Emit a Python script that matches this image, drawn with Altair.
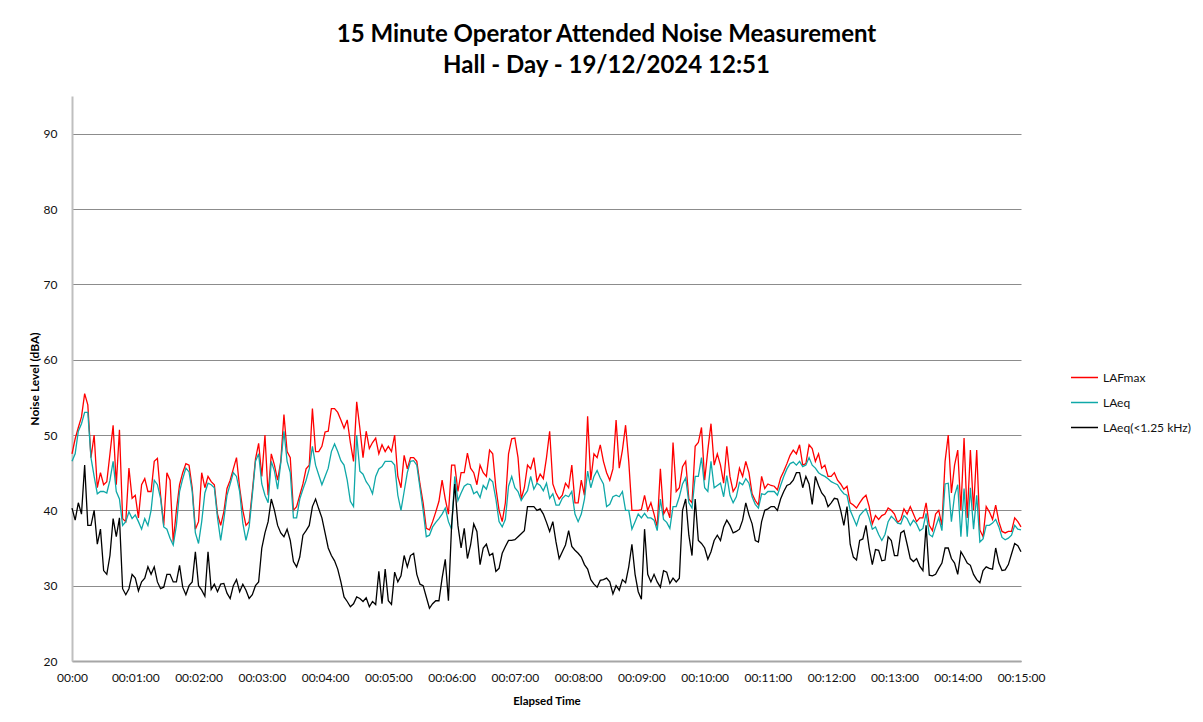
import altair as alt
import pandas as pd

SERIES = ["LAFmax", "LAeq", "LAeq(<1.25 kHz)"]
COLORS = ["#FF0000", "#0FA8A8", "#000000"]
STEP_S = 3  # seconds between samples

LAFMAX = [
    47.5, 49.5, 51, 52.4, 55.5, 54, 47, 50, 43, 45, 43.4, 43.8, 47.5, 51.3, 43.4, 50.7, 38.9, 38.5, 45.6, 41.6, 42, 39, 43.4, 44.2, 42.5, 42.5, 46.5, 46.9, 42, 38, 45, 44, 35.8, 40, 43.4, 45, 46.2, 46,
    43, 37.5, 38.5, 45, 43, 44.5, 43.8, 43.4, 39.5, 38, 39.8, 42.9, 44, 45.5, 47, 43, 40, 38, 38.5, 42.5, 46.8, 48.9, 44.5, 50, 42, 47.5, 46, 44, 46.5, 52.7, 47.8, 47, 40, 40.5, 42, 43.5, 45.5, 46,
    53.5, 47.8, 47.8, 48.5, 50.4, 50.5, 53.5, 53.5, 53, 52, 50.9, 52, 49, 46.5, 54.4, 50.9, 47, 50.5, 48.2, 49, 49.6, 47.5, 48.7, 47.8, 48.5, 47.8, 50, 44.5, 43, 47.3, 45.5, 47, 47, 46.5, 43.5, 41, 37.6, 37.4,
    38.5, 39.8, 41.2, 44, 41.5, 39.5, 46, 46, 42.5, 45, 45, 47.6, 45.6, 45, 43.4, 46, 45, 44.5, 48, 47.5, 43, 40, 38.5, 41, 47.5, 49.5, 49.6, 47, 41.5, 43, 46, 45.5, 47, 43.8, 44.8, 44.2, 47, 50.5,
    43.5, 42.3, 41.5, 42, 43.6, 43, 46, 41, 41, 44, 42, 52.5, 44, 47.5, 47, 48.7, 46.5, 45, 44, 45.5, 52, 45.6, 48, 51.3, 46.5, 40, 40, 40, 40.1, 42, 40, 41, 39.5, 37.8, 45.5, 39.5, 40.3, 39,
    49, 42.5, 43, 45.8, 46.5, 41.5, 41, 48.5, 49, 51, 44, 48, 51.5, 46, 47.5, 46, 43.6, 48.5, 44.5, 42.5, 43.2, 45.6, 44.5, 46.5, 45, 42.2, 41.3, 40.7, 44.5, 42.9, 43.5, 43.3, 43.2, 42.7, 44.3, 45.2, 46.2, 47.3,
    48, 47.5, 48.7, 46, 46.2, 48.7, 48.2, 46.5, 47.5, 45.6, 46, 44.5, 44.5, 45, 44, 43.5, 42.8, 43.2, 41, 40.7, 40.3, 41, 41.6, 42, 40.5, 38.2, 39.3, 38.8, 39.3, 39.5, 40.3, 40, 39.5, 38.4, 38.8, 40.2, 39.5, 40.5,
    39.5, 38.5, 39, 39, 41, 38, 37.3, 39.5, 40, 38, 46.5, 50, 42.3, 46, 48, 40, 49.6, 39, 48, 40, 48, 37.4, 36.5, 40.5, 39.8, 38.8, 40.7, 38.5, 37.2, 37, 37.2, 37.2, 39, 38.5, 37.8,
]

LAEQ = [
    46.5, 47.5, 50.5, 51.5, 53, 53, 47, 44.5, 42.2, 42.5, 42.5, 42.3, 44, 46.5, 42.5, 41.5, 38, 38.5, 39.8, 38.9, 39.4, 38.5, 37.5, 38.9, 38, 40, 44, 43.4, 41.6, 37.8, 37.5, 36.3, 35.4, 38, 42.5, 44.2, 45.6, 45.1,
    42.5, 37, 35.6, 38.5, 42.3, 43.6, 43.4, 43, 39, 36, 38.8, 42, 43.5, 45, 44.5, 42.5, 38.3, 36, 37.8, 42, 46.5, 47.5, 43.5, 42, 41, 46.5, 45.2, 42.8, 46.3, 50.5, 46.5, 45, 39, 39, 41.5, 42.8, 44, 45.5,
    48.5, 46, 44.7, 43.4, 44.5, 45.6, 47.8, 48.8, 47.8, 46.6, 46, 44, 41.2, 40.5, 50, 45.2, 44.8, 43.8, 43.2, 42.2, 44.5, 45.5, 45.8, 46.5, 46.5, 46.5, 46, 42, 40, 42.5, 45, 46.5, 46.6, 46, 43, 40, 36.5, 36.7,
    37.8, 38.4, 38.9, 39.5, 40.3, 38.5, 37.5, 44.5, 41.3, 42.3, 43.2, 43.5, 43.4, 42.2, 42.5, 41.7, 43.3, 42.8, 44.2, 43.8, 41.5, 38.5, 37.8, 38.8, 43.2, 44.5, 43, 42.5, 41.3, 42, 42.6, 44.5, 42.8, 43.6, 43.3, 42.6, 43.6, 41.6,
    42.2, 40.7, 40.7, 41.6, 42, 41.8, 42.5, 39.5, 38.5, 39.5, 41.5, 45.2, 43, 44.5, 45.3, 44.3, 43.5, 40.5, 40.8, 41.8, 42, 41.8, 42.5, 40, 40, 37.5, 38.5, 39.5, 39, 39.6, 39, 39, 38.7, 37.3, 41.5, 38.8, 38.4, 37.6,
    40.5, 40.5, 41.8, 43.5, 44.3, 41, 40.3, 44.5, 44.5, 47, 43, 42.5, 46.5, 43, 43.3, 43.6, 41.8, 44.6, 42, 41, 41.8, 43.7, 43.4, 44.2, 43.6, 41.8, 40.8, 40.3, 42.2, 42.1, 42.5, 42.5, 42.5, 42, 43.3, 44.5, 45.5, 46.2,
    46.4, 46, 46.5, 45.8, 46, 47, 46, 45.6, 45, 44.7, 44.5, 44.2, 43.8, 43.6, 43.4, 42.7, 42.2, 42, 40, 39, 38, 39.3, 39.8, 40.2, 39, 37.5, 37.8, 36.8, 36, 36.8, 38.5, 39.2, 38.8, 38.3, 38.2, 39.3, 38.9, 38,
    38.7, 38.2, 37.3, 37.6, 39.6, 36.8, 36.5, 37.8, 39, 37.3, 43.5, 43.6, 38.5, 42, 43.4, 36.5, 42.9, 36.5, 43, 37.5, 42, 35.8, 36.2, 38, 38, 38.3, 38.8, 37.8, 36.4, 36.1, 36.3, 36.7, 38, 37.5, 37.4,
]

LAEQ_LF = [
    40.3, 38.7, 41, 39.5, 46, 38, 38, 40, 35.5, 37.5, 32, 31.5, 34, 38.9, 36.5, 39, 29.6, 28.8, 29.6, 31.5, 31, 29.3, 30.5, 31, 32.5, 31.5, 32.5, 30.5, 29.6, 29.8, 31.5, 31.5, 30.5, 30.5, 32.7, 29.8, 28.8, 30,
    30.5, 34.5, 30, 29.4, 28.6, 34.5, 29.5, 30.2, 29.2, 30.2, 30.3, 29, 28.3, 30, 30.8, 29.2, 30.2, 29.4, 28.3, 28.8, 30, 30.5, 35, 37, 38.5, 41.5, 40, 38, 37, 36.5, 37.5, 36, 33.2, 32.5, 33.8, 36.7, 37.3, 38,
    40.5, 41.5, 40.2, 39, 37, 35, 34, 33.3, 32.2, 30.5, 28.5, 27.9, 27.2, 27.6, 28.5, 28.3, 27.9, 28.4, 27.2, 27.9, 27.5, 31.9, 27.6, 32.2, 28, 27.5, 31.8, 30.5, 31.3, 34, 32.5, 34, 34.3, 31.5, 30.2, 30, 28.5, 27,
    27.6, 28, 28, 31, 33.5, 28, 38, 43.5, 38, 35, 37.6, 33.6, 35.4, 38.2, 37.2, 32.8, 35, 35.5, 34, 34.3, 31.9, 32.3, 34.3, 35.2, 36, 36, 36.1, 36.5, 36.9, 37.3, 40.5, 40.5, 40.5, 40, 40.2, 39.5, 38.4, 37.2,
    38.5, 35.8, 33.6, 34.5, 35.4, 37.3, 35.2, 34.7, 34.3, 33.8, 32.8, 32.2, 30.8, 30.2, 29.8, 30.7, 30.8, 31, 30.5, 28.9, 30, 29.4, 30.8, 30.4, 32.5, 35.5, 31.5, 29.2, 28.2, 37.5, 31.5, 30.5, 31.5, 30.5, 29.8, 32, 31.8, 30.3,
    31, 30.5, 31, 40, 41.5, 36.7, 34, 41.5, 36, 35.6, 35, 33.5, 34.5, 36, 36.7, 36, 37.8, 38.7, 38, 37, 37.2, 37.5, 38.7, 41, 39.4, 38.2, 36, 35.8, 38.5, 40, 40.2, 40.5, 40.5, 40, 41.5, 42.5, 43.3, 43.5,
    44, 45, 45, 43, 44.5, 43.5, 40.8, 44.5, 43.3, 42.3, 41.8, 40.5, 41, 41.6, 41.5, 40, 38, 40.5, 35.5, 33.8, 33.4, 36, 36.2, 38, 35, 32.8, 34.8, 34.7, 33.3, 33.4, 36.5, 36, 34, 34, 37, 37.3, 35.5, 33.6,
    33.2, 33.6, 32.6, 32, 38, 31.4, 31.3, 31.5, 32.3, 33, 35, 35, 33.6, 33, 31.5, 34.5, 33.8, 33, 32.7, 31.5, 30.8, 30.4, 32, 32.5, 32.3, 32.2, 35, 33, 32, 32.1, 32.8, 34.2, 35.6, 35.3, 34.5,
]

X_TICKS = [0, 60, 120, 180, 240, 300, 360, 420, 480, 540, 600, 660, 720, 780, 840, 900]
Y_TICKS = [20, 30, 40, 50, 60, 70, 80, 90]
TITLE = ["15 Minute Operator Attended Noise Measurement", "Hall - Day - 19/12/2024 12:51"]

rows = []
for name, vals in zip(SERIES, [LAFMAX, LAEQ, LAEQ_LF]):
    for i, v in enumerate(vals):
        rows.append({"t": i * STEP_S, "level": v, "series": name})
df = pd.DataFrame(rows)

FONT = "Lato"

x_enc = alt.X(
    "t:Q",
    scale=alt.Scale(domain=[0, 900], nice=False, zero=False),
    axis=alt.Axis(
        values=X_TICKS,
        labelExpr="datum.value == 0 ? '00:00' : '00:' + (datum.value/60 < 10 ? '0' : '') + (datum.value/60) + ':00'",
        grid=False, ticks=False, labelPadding=11,
        labelFont=FONT, labelFontSize=12, labelColor="#111111",
        domainColor="#A6A6A6", domainWidth=2,
        title="Elapsed Time", titleFont=FONT, titleFontSize=11.5, titleFontWeight="bold",
        titleColor="#000000", titleX=474.5, titleY=40, titleAlign="center", titleBaseline="middle",
        labelFlush=False, labelOverlap=False,
    ),
)
y_enc = alt.Y(
    "level:Q",
    scale=alt.Scale(domain=[20, 95], nice=False, zero=False),
    axis=alt.Axis(
        values=Y_TICKS, grid=True, gridColor="#8C8C8C", gridWidth=1,
        ticks=False, labelPadding=15,
        labelFont=FONT, labelFontSize=12, labelColor="#111111",
        domainColor="#BFBFBF", domainWidth=2,
        title="Noise Level (dBA)", titleFont=FONT, titleFontSize=12, titleFontWeight="bold",
        titleColor="#000000", titleX=-38, titleY=282.5, titleAngle=270,
        titleAlign="center", titleBaseline="middle",
    ),
)
color_enc = alt.Color(
    "series:N",
    scale=alt.Scale(domain=SERIES, range=COLORS),
    legend=alt.Legend(
        title=None, orient="none", legendX=998, legendY=267,
        symbolType="stroke", symbolSize=729, symbolStrokeWidth=1.5,
        labelFont=FONT, labelFontSize=12, labelColor="#111111",
        labelOffset=4, rowPadding=4, padding=0,
    ),
)

layers = []
for name in SERIES:
    layers.append(
        alt.Chart(df)
        .transform_filter(alt.datum.series == name)
        .mark_line(strokeWidth=1.3)
        .encode(x=x_enc, y=y_enc, color=color_enc)
    )

chart = (
    alt.layer(*layers)
    .properties(
        width=949, height=565,
        background="white",
        title=alt.TitleParams(
            text=TITLE, font=FONT, fontSize=24, fontWeight="bold", color="#000000",
            anchor="middle", frame="group", dx=60, offset=18, lineHeight=31,
        ),
        autosize=alt.AutoSizeParams(type="none"),
        padding={"left": 64, "top": 88, "right": 170, "bottom": 48},
    )
    .configure_view(stroke=None, strokeWidth=0)
)

chart.save("out.html", embed_options={"renderer": "svg", "actions": False})
